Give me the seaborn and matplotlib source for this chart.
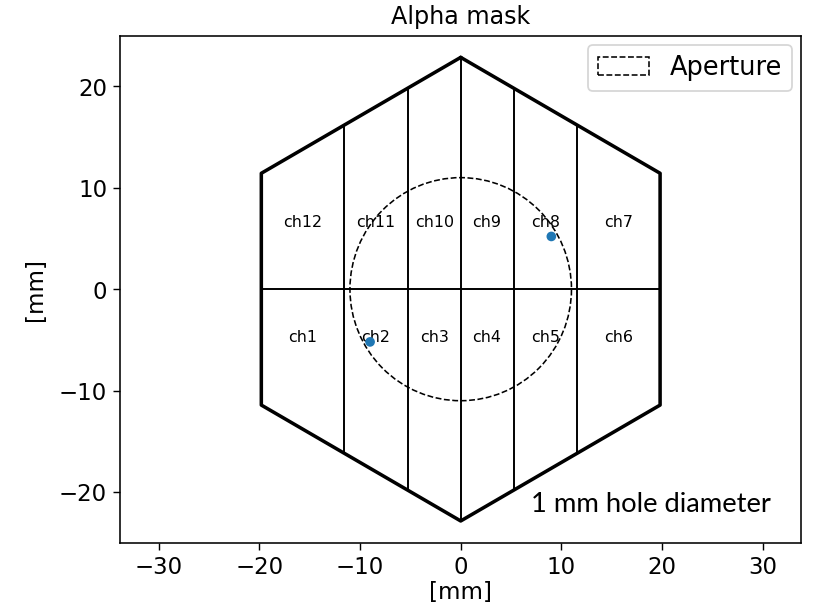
import numpy as np
import pandas as pd
import matplotlib
matplotlib.use("Agg")
import matplotlib.pyplot as plt
from matplotlib.patches import Polygon, Circle
import seaborn as sns

# Hexagonal mask outline (mm)
hex_x = [0.0, 19.8, 19.8, 0.0, -19.8, -19.8, 0.0]
hex_y = [22.86, 11.43, -11.43, -22.86, -11.43, 11.43, 22.86]

# Channel column boundaries (mm) and the horizontal split
col_edges = [-11.58, -5.26, 0.0, 5.26, 11.58]
row_edge = 0.0

# Channel labels
col_centers = [-15.7, -8.4, -2.6, 2.6, 8.4, 15.7]
top_labels = ["ch12", "ch11", "ch10", "ch9", "ch8", "ch7"]
bottom_labels = ["ch1", "ch2", "ch3", "ch4", "ch5", "ch6"]
top_label_y = 6.6
bottom_label_y = -4.7

# Aperture radius (mm)
aperture_r = 11.0

# Hole positions (mm)
hole_x = [9.0, -9.0]
hole_y = [5.2, -5.2]

sns.set_style("ticks")
plt.rcParams["font.family"] = ["DejaVu Sans"]
plt.rcParams["text.color"] = "black"
plt.rcParams["axes.labelcolor"] = "black"
plt.rcParams["xtick.color"] = "black"
plt.rcParams["ytick.color"] = "black"
plt.rcParams["axes.edgecolor"] = "black"

fig = plt.figure(figsize=(6.42, 4.79), dpi=127)
ax = fig.add_axes([0.1476, 0.1074, 0.8349, 0.8334])

# Outline
hex_df = pd.DataFrame({"x": hex_x, "y": hex_y})
sns.lineplot(data=hex_df, x="x", y="y", sort=False, estimator=None,
             color="black", lw=2.0, ax=ax, zorder=3)

# Channel dividers clipped to the hexagon
clip = Polygon(np.column_stack([hex_x, hex_y]), closed=True,
               transform=ax.transData, facecolor="none", edgecolor="none")
ax.add_patch(clip)
for xe in col_edges:
    ln = ax.axvline(xe, color="black", lw=1.1, zorder=2)
    ln.set_clip_path(clip)
hl = ax.axhline(row_edge, color="black", lw=1.1, zorder=2)
hl.set_clip_path(clip)

# Aperture
ap = Circle((0, 0), aperture_r, facecolor="none", edgecolor="black",
            ls="--", lw=0.9, label="Aperture", zorder=4)
ax.add_patch(ap)

# Labels
for xc, lab in zip(col_centers, top_labels):
    ax.text(xc, top_label_y, lab, ha="center", va="center", fontsize=9)
for xc, lab in zip(col_centers, bottom_labels):
    ax.text(xc, bottom_label_y, lab, ha="center", va="center", fontsize=9)

# Holes
sns.scatterplot(x=hole_x, y=hole_y, color="#1f77b4", s=30,
                edgecolor="none", ax=ax, zorder=5)

ax.text(7.0, -21.2, "1 mm hole diameter", ha="left", va="center",
        fontsize=15.5, family=["Lato", "DejaVu Sans"])

ax.set_xlim(-33.8, 33.8)
ax.set_ylim(-25.0, 25.0)
ax.set_xticks([-30, -20, -10, 0, 10, 20, 30])
ax.set_yticks([-20, -10, 0, 10, 20])
ax.tick_params(labelsize=13, length=4, width=0.8)
for sp in ax.spines.values():
    sp.set_linewidth(0.9)
    sp.set_visible(True)
ax.set_xlabel("[mm]", fontsize=13, labelpad=1)
ax.set_ylabel("[mm]", fontsize=13, labelpad=7)
ax.set_title("Alpha mask", fontsize=13.5, pad=7)
ax.legend(handles=[ap], loc="upper right", fontsize=14.5, handlelength=2.0,
          frameon=True, borderaxespad=0.35)

fig.savefig("out.png", dpi=127)
